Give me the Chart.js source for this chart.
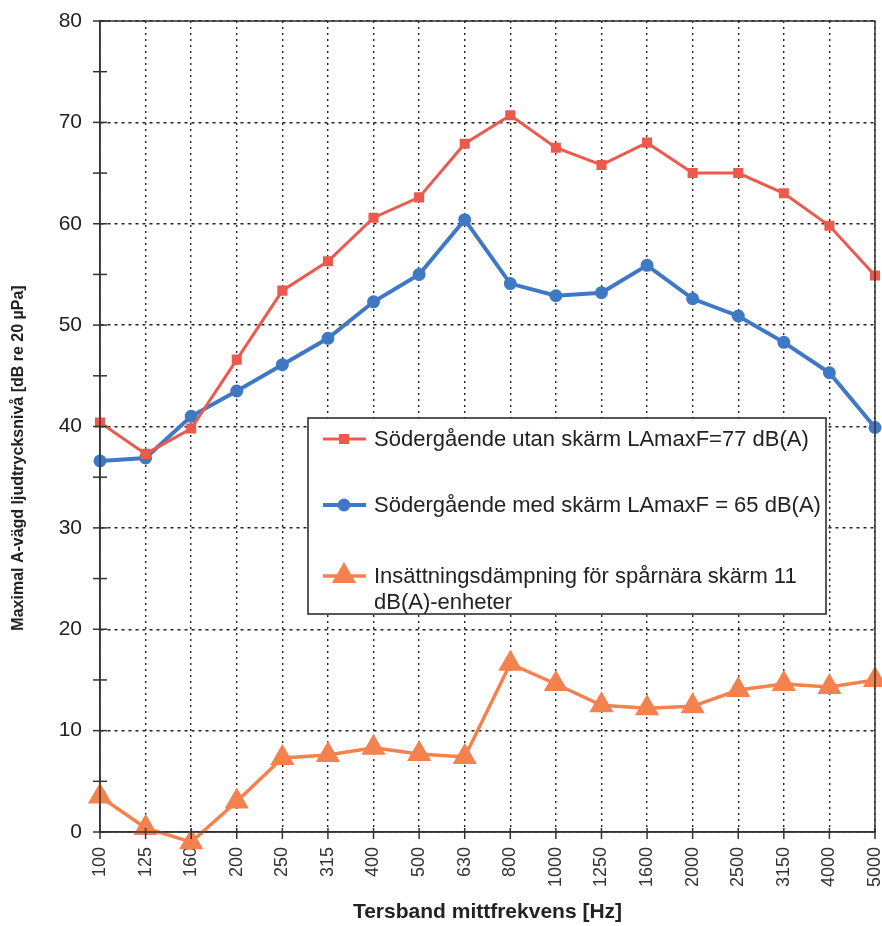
<!DOCTYPE html>
<html>
<head>
<meta charset="utf-8">
<script src="https://cdn.jsdelivr.net/npm/chart.js@4"></script>
<style>
  html, body { margin: 0; padding: 0; background: #fff; overflow: hidden; }
  #wrap { width: 882px; height: 926px; }
  canvas { display: block; }
</style>
</head>
<body>
<div id="wrap"><canvas id="ljudChart"></canvas></div>
<script>
// Tersband (Hz)
const frekvenser = ['100', '125', '160', '200', '250', '315', '400', '500', '630',
    '800', '1000', '1250', '1600', '2000', '2500', '3150', '4000', '5000'];

const utanSkarm = [40.4, 37.3, 39.8, 46.6, 53.4, 56.3, 60.6, 62.6, 67.9,
    70.7, 67.5, 65.8, 68.0, 65.0, 65.0, 63.0, 59.8, 54.9];
const medSkarm = [36.6, 36.9, 41.0, 43.5, 46.1, 48.7, 52.3, 55.0, 60.4,
    54.1, 52.9, 53.2, 55.9, 52.6, 50.9, 48.3, 45.3, 39.9];
const dampning = [3.5, 0.4, -1.0, 3.0, 7.3, 7.6, 8.3, 7.7, 7.4,
    16.6, 14.6, 12.5, 12.2, 12.4, 14.0, 14.6, 14.3, 15.0];

const serieNamn = [
    'Södergående utan skärm LAmaxF=77 dB(A)',
    'Södergående med skärm LAmaxF = 65 dB(A)',
    'Insättningsdämpning för spårnära skärm 11\ndB(A)-enheter'
];

const FONT = "'Liberation Sans', Arial, sans-serif";

// ram, kryssade tickmarkeringar, legend och y-titel
const extrasPlugin = {
    id: 'extras',
    afterDraw(chart) {
        const { ctx, chartArea: a, scales } = chart;
        ctx.save();
        ctx.strokeStyle = '#333';
        ctx.lineWidth = 1.5;
        ctx.strokeRect(a.left, a.top, a.right - a.left, a.bottom - a.top);

        // y tick marks across the axis
        scales.y.ticks.forEach(t => {
            const py = scales.y.getPixelForValue(t.value);
            ctx.beginPath();
            ctx.moveTo(a.left - 7, py);
            ctx.lineTo(a.left + 7, py);
            ctx.stroke();
        });
        // x tick marks
        frekvenser.forEach((f, i) => {
            const px = scales.x.getPixelForValue(i);
            ctx.beginPath();
            ctx.moveTo(px, a.bottom - 4);
            ctx.lineTo(px, a.bottom + 7);
            ctx.stroke();
        });

        // legend box
        const bx = a.left + 208, by = a.top + 397, bw = 518, bh = 196;
        ctx.fillStyle = '#fff';
        ctx.fillRect(bx, by, bw, bh);
        ctx.strokeStyle = '#222';
        ctx.lineWidth = 1.5;
        ctx.strokeRect(bx, by, bw, bh);

        const rowsY = [by + 21, by + 87, by + 158];
        chart.data.datasets.forEach((ds, i) => {
            const y = rowsY[i];
            ctx.strokeStyle = ds.borderColor;
            ctx.lineWidth = ds.borderWidth;
            ctx.beginPath();
            ctx.moveTo(bx + 15, y);
            ctx.lineTo(bx + 58, y);
            ctx.stroke();
            Chart.helpers.drawPoint(ctx, {
                pointStyle: ds.pointStyle,
                radius: ds.pointRadius,
                borderWidth: 1
            }, bx + 36, y);
            ctx.fillStyle = ds.pointBackgroundColor;
            ctx.fill();

            ctx.fillStyle = '#222';
            ctx.font = '22px ' + FONT;
            ctx.textAlign = 'left';
            ctx.textBaseline = 'middle';
            ds.label.split('\n').forEach((line, j) => {
                ctx.fillText(line, bx + 66, y + 1 + j * 26);
            });
        });

        // y axis title
        ctx.translate(19, 458);
        ctx.rotate(-Math.PI / 2);
        ctx.fillStyle = '#222';
        ctx.font = 'bold 16px ' + FONT;
        ctx.textAlign = 'center';
        ctx.textBaseline = 'middle';
        ctx.fillText('Maximal A-vägd ljudtrycksnivå [dB re 20 µPa]', 0, 0);
        ctx.restore();
    }
};

const ctx = document.getElementById('ljudChart');
new Chart(ctx, {
    type: 'line',
    data: {
        labels: frekvenser,
        datasets: [{
            label: serieNamn[0],
            data: utanSkarm,
            borderColor: '#ec5a4e',
            backgroundColor: '#ec5a4e',
            pointBackgroundColor: '#ec5a4e',
            pointBorderColor: '#ec5a4e',
            borderWidth: 3,
            pointStyle: 'rect',
            pointRadius: 5,
            tension: 0
        }, {
            label: serieNamn[1],
            data: medSkarm,
            borderColor: '#3f78c4',
            backgroundColor: '#3f78c4',
            pointBackgroundColor: '#3f78c4',
            pointBorderColor: '#3f78c4',
            borderWidth: 4,
            pointStyle: 'circle',
            pointRadius: 4.5,
            tension: 0
        }, {
            label: serieNamn[2],
            data: dampning,
            borderColor: '#f3824f',
            backgroundColor: '#f3824f',
            pointBackgroundColor: '#f3824f',
            pointBorderColor: '#f3824f',
            borderWidth: 3.5,
            pointStyle: 'triangle',
            pointRadius: 10.5,
            tension: 0,
            clip: false
        }]
    },
    options: {
        responsive: true,
        maintainAspectRatio: false,
        animation: false,
        layout: {
            autoPadding: false,
            padding: { top: 21, right: 7, left: 0, bottom: 0 }
        },
        plugins: {
            legend: { display: false },
            tooltip: { enabled: false }
        },
        scales: {
            x: {
                offset: false,
                grid: {
                    offset: false,
                    drawTicks: false,
                    color: '#222',
                    lineWidth: 1.4
                },
                border: { display: true, color: '#333', width: 1.5, dash: [2, 4] },
                ticks: {
                    color: '#333',
                    font: { family: FONT, size: 18 },
                    padding: 15,
                    minRotation: 90,
                    maxRotation: 90,
                    autoSkip: false
                },
                title: {
                    display: true,
                    text: 'Tersband mittfrekvens [Hz]',
                    color: '#222',
                    font: { family: FONT, size: 21, weight: 'bold' },
                    padding: { top: 0, bottom: 1 }
                },
                afterFit(scale) {
                    scale.height = 94;
                    scale.paddingLeft = 0;
                    scale.paddingRight = 0;
                }
            },
            y: {
                min: 0,
                max: 80,
                grid: {
                    drawTicks: false,
                    color: c => (c.tick && c.tick.value % 10 === 0) ? '#222' : 'transparent',
                    lineWidth: 1.4
                },
                border: { display: true, color: '#333', width: 1.5, dash: [3, 4] },
                ticks: {
                    stepSize: 5,
                    color: '#222',
                    font: { family: FONT, size: 21 },
                    padding: 18,
                    callback: v => (v % 10 === 0 ? v : '')
                },
                afterFit(scale) {
                    scale.width = 100;
                    scale.paddingTop = 0;
                    scale.paddingBottom = 0;
                }
            }
        }
    },
    plugins: [extrasPlugin]
});
</script>
</body>
</html>
